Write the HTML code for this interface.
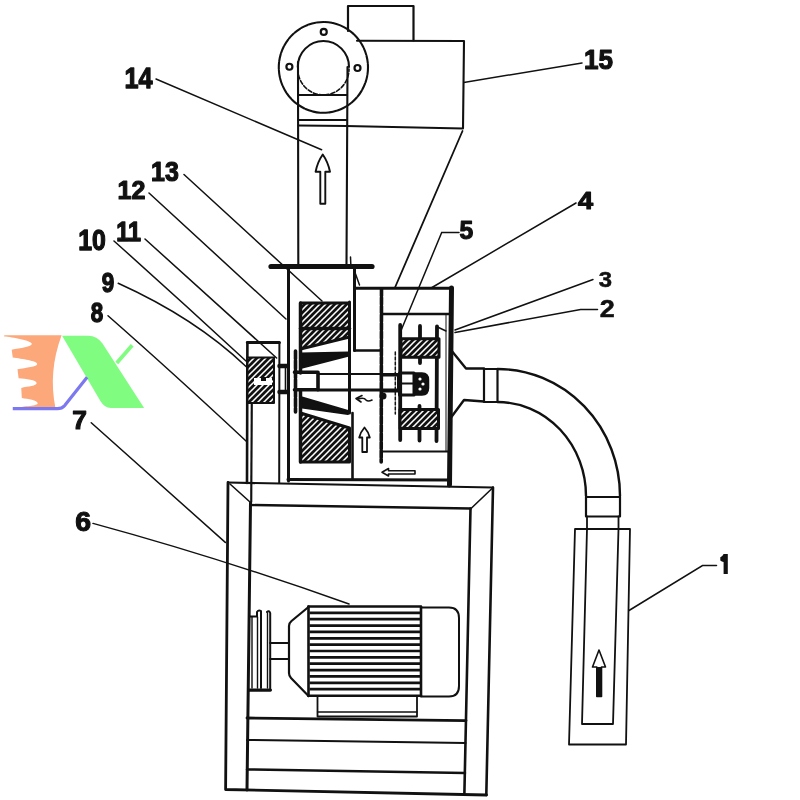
<!DOCTYPE html>
<html><head><meta charset="utf-8">
<style>
html,body{margin:0;padding:0;background:#fff;width:800px;height:800px;overflow:hidden}
svg{display:block}
text{font-family:"Liberation Sans",sans-serif;font-weight:bold;fill:#111}
</style></head>
<body>
<svg width="800" height="800" viewBox="0 0 800 800">
<defs>
<pattern id="hatch" patternUnits="userSpaceOnUse" width="6" height="6">
<rect width="6" height="6" fill="#111"/>
<path d="M-1,7 L7,-1 M-1,1 L1,-1 M5,7 L7,5" stroke="#fff" stroke-width="1.55"/>
</pattern>
</defs>
<rect width="800" height="800" fill="#fff"/>
<g id="logo">
<path d="M4.25,335.3 L61.6,335.3 Q48,372 55.5,408.3 L12.75,408.3 C25,406 38,406 37.7,403.3 C37.5,400 28,399 21.8,398 L21.25,387.9 C28,386.5 36.8,386 36.65,383.1 C36.5,380 26,379 18.6,378.3 L17.5,369.3 C26,367.5 37.5,367 37.2,364 C37,361 22,359 12.75,357.6 L11.7,349.7 C20,348 32,347 31.9,343.8 C31.8,340.5 12,337 4.25,336.4 Z" fill="#FCA87A"/>
<path d="M62.1,335.7 L88.25,335.7 Q97,335.7 102.5,343.5 L144.1,408.1 L110.8,408.1 Q104.5,408 100.1,400.5 Z" fill="#80FC80"/>
<path d="M116.75,363 L132.2,345.2" stroke="#80FC80" stroke-width="3.8"/>
<path d="M87.1,377.25 L64.5,405.75 Q62,408.7 57.4,408.7 L12.75,408.7" stroke="#7B78F0" stroke-width="3.2" fill="none"/>
</g>

<g fill="none" stroke="#111" stroke-width="1.8" stroke-linecap="round" stroke-linejoin="round">
<!-- top motor box -->
<path d="M348,31 L348,6 L413.5,6 L413.5,40.5" stroke-width="2.2"/>
<!-- cyclone box -->
<path d="M357,40.7 L464,41 L463,128" stroke-width="2.1"/>
<path d="M346,126 L463,128.5"/>
<path d="M462.5,131 L395,287.5" stroke-width="1.8"/>
<!-- ring -->
<ellipse cx="323.4" cy="67.4" rx="44.6" ry="45.4" stroke-width="2.1" stroke-dasharray="7 1.2"/>
<path d="M297.8,67 A25.6,26 0 1 1 349,67" stroke-width="2.1"/>
<path d="M297.8,69 A25.6,26 0 0 0 349,69" stroke-width="1.6" stroke-dasharray="4 2"/>
<circle cx="323.75" cy="31.9" r="3" stroke-width="2.2"/>
<circle cx="289.4" cy="66.75" r="3" stroke-width="2.2"/>
<circle cx="357.5" cy="68" r="3" stroke-width="2.2"/>
<!-- pipe -->
<path d="M298,62 L298.3,264" stroke-width="2.1"/>
<path d="M347.5,67 L346.5,264" stroke-width="2.1"/>
<path d="M350.5,257 L350.8,264" stroke-width="1.5"/>
<path d="M298.5,95 L347,95 M298.5,120 L347,120 M298.5,125.5 L347,126"/>
<!-- arrow in pipe -->
<path d="M322.75,154.5 Q317.5,162 315.6,171.75 L320.3,171.75 L320.3,203.8 L325.3,203.8 L325.3,171.75 L330,171.75 Q328,162 322.75,154.5 Z" stroke-width="1.9"/>

<!-- top plate -->
<path d="M271,266.5 L372,266.5" stroke-width="5.2"/>
<!-- chamber walls -->
<path d="M288.5,268 L288.5,481" stroke-width="3"/>
<path d="M354.5,268 L354.5,350.5" stroke-width="3"/>
<path d="M349.5,302 L349.5,413" stroke-width="3"/>
<path d="M352.5,413 L352.5,479" stroke-width="2.6"/>
<path d="M355,272.5 L359.5,285" stroke-width="1.5"/>
<!-- small box -->
<path d="M355,288.3 L450,288.3" stroke-width="3"/>
<path d="M354.5,350.5 L380.5,350.5" stroke-width="2.5"/>
<!-- housing -->
<path d="M451.5,288 L449.5,485" stroke-width="5"/>
<path d="M381.5,289 L381.2,462" stroke-width="3.6" stroke-dasharray="7 1.5"/>
<path d="M381.5,314 L450,314" stroke-width="2.4"/>
<path d="M381.5,451.5 L450,451.5" stroke-width="2.2"/>
<path d="M446,315 L446,451" stroke-width="1"/>
<!-- bottom lines of chamber -->
<path d="M288,479.5 L450,480" stroke-width="3"/>

<!-- upper hatched block -->
<path d="M300.5,303 L349.5,303 L349.5,337 L300.5,349 Z" fill="url(#hatch)" stroke-width="3"/>
<path d="M300.5,353.5 L348,352.4 L348,355.8 L300.5,368 Z" fill="#111" stroke-width="2"/>
<path d="M300.5,328.5 L349.5,328.5" stroke-width="3.5"/>
<path d="M300.5,436 L349.5,436" stroke-width="3"/>
<path d="M300.5,303 L300.5,373" stroke-width="3.5"/>
<path d="M295.5,351 L295.5,412" stroke-width="3.6" stroke-dasharray="8 1.5"/>
<!-- lower hatched block -->
<path d="M302,397.4 L348,411 L348,414 L302,407.5 Z" fill="#111" stroke-width="2"/>
<path d="M300.5,413 L349.5,428 L349.5,462 L300.5,462 Z" fill="url(#hatch)" stroke-width="3"/>
<path d="M300.5,390 L300.5,462" stroke-width="3.5"/>
<!-- shaft -->
<path d="M318,374 L399,374" stroke-width="2.2"/>
<path d="M318,390 L399,390" stroke-width="3"/>
<path d="M294.5,372.3 L318,372.3 L318,389.8 L294.5,389.8" stroke-width="3.6"/>
<rect x="381" y="375.5" width="17" height="16" stroke-width="2"/>
<circle cx="383" cy="396" r="3.5" fill="#111" stroke="none"/>

<!-- rotor -->
<path d="M400.2,325 L400.2,440" stroke-width="3.8"/>
<path d="M395.3,352 L395.3,414" stroke-width="1.5" stroke-dasharray="3 2"/>
<path d="M420,326 L420,363 M419.5,406 L419.5,440.5" stroke-width="3.8"/>
<path d="M437,326.3 L436.5,441" stroke-width="3.8"/>
<path d="M437.5,327 L446,331" stroke-width="1.5"/>
<rect x="401" y="338.7" width="38" height="18.5" fill="url(#hatch)" stroke-width="3"/>
<rect x="400" y="409.5" width="38.5" height="19" fill="url(#hatch)" stroke-width="3"/>
<rect x="399.5" y="373" width="14.5" height="22" stroke-width="3"/>
<path d="M400,383.5 L414,383.5" stroke-width="2"/>
<path d="M414,373 L422,373 Q428.5,373 428.5,380 L428.5,388 Q428.5,395 422,395 L414,395 Z" fill="#111" stroke-width="1.5"/>
<circle cx="420" cy="379" r="1.6" fill="#fff" stroke="none"/>
<circle cx="423" cy="384" r="1.6" fill="#fff" stroke="none"/>
<circle cx="420" cy="389" r="1.6" fill="#fff" stroke="none"/>

<!-- arrows in chamber -->
<path d="M364.5,427.5 Q360.5,432 359.2,437.5 L362.3,437.5 L362.3,452 L367,452 L367,437.5 L369.8,437.5 Q368.5,432 364.5,427.5 Z" stroke-width="1.8"/>
<path d="M382,472.3 L388.5,468.5 L388.5,470.8 L415,470.8 L415,474 L388.5,474 L388.5,476 Z" stroke-width="1.6"/>
<path d="M356,398.5 L362,395.5 M356,398.5 L361,402 M358,399 Q364,397 366,400 Q368,402 372,400" stroke-width="1.6"/>

<!-- pulley box left -->
<path d="M247.4,342.4 L279.4,342.4" stroke-width="3"/>
<path d="M247.4,342.4 L247,483" stroke-width="2.6"/>
<path d="M252,403 L251.5,502" stroke-width="1.6"/>
<path d="M279.4,342.4 L279.2,483" stroke-width="2"/>
<rect x="247.5" y="357.5" width="26.5" height="45.5" fill="url(#hatch)" stroke="#111" stroke-width="2"/>
<rect x="254" y="378" width="18" height="7" fill="#fff" stroke="none"/>
<rect x="261" y="377" width="5" height="4" fill="#111" stroke="none"/>
<path d="M279.5,366 L287,366 M279.5,392 L287,392" stroke-width="4.5"/>
<path d="M285.5,366 L285.5,392" stroke-width="1.6"/>

<!-- outlet flange -->
<path d="M451,350 L466,368.5 L484,368.5" stroke-width="2.4"/>
<path d="M484,401.5 L464,400 L451,417.5" stroke-width="2.4"/>
<rect x="484" y="369" width="13.5" height="33" stroke-width="2.2"/>
<!-- elbow -->
<path d="M497.5,369 A122.5,127 0 0 1 620,496" stroke-width="2.4"/>
<path d="M497.5,402 A88.5,94 0 0 1 586,496" stroke-width="2.4"/>
<rect x="586" y="497" width="34" height="19.5" stroke-width="2.2"/>
<path d="M587,516.5 L587,529 M618.5,516.5 L618.5,529"/>
<!-- feeder tube -->
<path d="M575,529 L630,529 L626,744.5 L569,744.5 Z" stroke-width="1.8"/>
<path d="M587,529 L582,724 L613,724 L618.5,529" stroke-width="1.8"/>
<path d="M599,650 L592.5,667 L596.8,667 L596.8,696.5 L601.5,696.5 L601.5,667 L605.5,667 Z" stroke-width="1.6"/>
<path d="M597,667 L601.3,667 L601,696.5 L597,696.5 Z" fill="#111" stroke="none"/>

<!-- base frame -->
<path d="M228,482.5 L493,487.5" stroke-width="2.2"/>
<path d="M228,482.5 L225.6,789.5 L486.5,795" stroke-width="2.8"/>
<path d="M493,487.5 L486.3,795" stroke-width="2.6"/>
<path d="M250.5,505 L470.5,508.5" stroke-width="2.4"/>
<path d="M250.5,503 L247,790" stroke-width="3"/>
<path d="M470.5,508.5 L464.4,793" stroke-width="2.6"/>
<path d="M230,484 L250,502 M492,488.5 L470.5,509" stroke-width="1.6"/>
<path d="M247,718 L466,720.6" stroke-width="2.8"/>
<path d="M247,740 L465.5,743" stroke-width="2"/>
<path d="M247,769.4 L465,773" stroke-width="2.5"/>
<!-- belt guard -->
<path d="M251.5,403 L251,505" stroke-width="1.6"/>

<!-- motor -->
<path d="M308.5,606.5 L421,606.5 M308.5,695.8 L421,695.8" stroke-width="2.6"/>
<path d="M308.5,606.5 L308.5,696 M421,607 L421,696" stroke-width="2.6"/>
<path d="M309.5,612.86 L421,612.86 M309.5,619.21 L421,619.21 M309.5,625.57 L421,625.57 M309.5,631.93 L421,631.93 M309.5,638.29 L421,638.29 M309.5,644.64 L421,644.64 M309.5,651.00 L421,651.00 M309.5,657.36 L421,657.36 M309.5,663.71 L421,663.71 M309.5,670.07 L421,670.07 M309.5,676.43 L421,676.43 M309.5,682.79 L421,682.79 M309.5,689.14 L421,689.14" stroke-width="2.7" stroke-linecap="butt"/>
<path d="M308.5,607 L291.5,621 Q289,623 289,626 L289,673 Q289,676 291,678 L308.5,696" stroke-width="2.2"/>
<path d="M421,607.5 L449,607.5 Q459,607.5 459,618 L459,686 Q459,696.5 449,696.5 L421,696.5" stroke-width="2"/>
<path d="M317.5,696 L317.5,716.5 L417,716.5 L417,696" stroke-width="1.8"/>
<path d="M317.5,712 L417,712" stroke-width="1.3"/>
<path d="M270,643 L289,643 M270,659 L289,659" stroke-width="1.8"/>
<path d="M249,616.5 L257,616.5 L257,612 Q258.5,609.5 261,611 L261,688 M267,612 Q269,610 270.2,613 L270.2,690.5 L249,690.5" stroke-width="2"/>
<path d="M249,690 L270.5,690" stroke-width="3"/>
<path d="M252,617 L252,688 M257.5,617 L257.5,688" stroke-width="1.4"/>
<path d="M267.5,613 L267.5,688" stroke-width="1.4"/>
</g>

<!-- leaders -->
<g fill="none" stroke="#111" stroke-width="1.5" stroke-linecap="round">
<path d="M156,79 L321.6,149.8"/>
<path d="M184,174.5 L322,301"/>
<path d="M149,193 L286,319"/>
<path d="M145,239 L276.6,358"/>
<path d="M114,241 Q180,300 246,361"/>
<path d="M118.2,283.3 Q195,318 246,366.5"/>
<path d="M108,315.8 Q172,372 246,441"/>
<path d="M91.25,422.75 L225.3,542.4"/>
<path d="M93,523.4 Q220,558 349,604"/>
<path d="M582,62.9 L463.75,82.5"/>
<path d="M576,203 L432,287.5"/>
<path d="M459,232.5 L441.7,232.5 L400,333"/>
<path d="M593,279.5 L455,330"/>
<path d="M597.5,309.4 L580.6,309.4 L455,332.5"/>
<path d="M716.5,565.6 L702.5,565.6 L629,610.5"/>
</g>

<!-- labels -->
<g opacity="0.999">
<text transform="translate(124.51,88.35) scale(0.840,1)" font-size="30.00" stroke="#111" stroke-width="1.31" stroke-linejoin="round">14</text>
<text transform="translate(151.03,181.07) scale(0.899,1)" font-size="27.75" stroke="#111" stroke-width="1.22" stroke-linejoin="round">13</text>
<text transform="translate(117.52,199.35) scale(0.964,1)" font-size="26.00" stroke="#111" stroke-width="1.14" stroke-linejoin="round">12</text>
<text transform="translate(116.33,240.85) scale(0.820,1)" font-size="28.55" stroke="#111" stroke-width="1.34" stroke-linejoin="round">11</text>
<text transform="translate(78.29,249.55) scale(0.839,1)" font-size="29.58" stroke="#111" stroke-width="1.31" stroke-linejoin="round">10</text>
<text transform="translate(101.66,291.57) scale(0.810,1)" font-size="27.75" stroke="#111" stroke-width="1.36" stroke-linejoin="round">9</text>
<text transform="translate(90.68,322.08) scale(0.829,1)" font-size="27.04" stroke="#111" stroke-width="1.33" stroke-linejoin="round">8</text>
<text transform="translate(72.31,429.45) scale(1.042,1)" font-size="25.29" stroke="#111" stroke-width="1.10" stroke-linejoin="round">7</text>
<text transform="translate(75.30,530.67) scale(1.033,1)" font-size="27.54" stroke="#111" stroke-width="1.10" stroke-linejoin="round">6</text>
<text transform="translate(584.05,68.97) scale(0.920,1)" font-size="28.36" stroke="#111" stroke-width="1.20" stroke-linejoin="round">15</text>
<text transform="translate(577.99,208.60) scale(1.114,1)" font-size="24.42" stroke="#111" stroke-width="1.10" stroke-linejoin="round">4</text>
<text transform="translate(459.51,238.69) scale(0.966,1)" font-size="25.57" stroke="#111" stroke-width="1.14" stroke-linejoin="round">5</text>
<text transform="translate(598.85,287.44) scale(1.114,1)" font-size="21.41" stroke="#111" stroke-width="0.50" stroke-linejoin="round">3</text>
<text transform="translate(599.66,316.90) scale(1.159,1)" font-size="23.29" stroke="#111" stroke-width="0.50" stroke-linejoin="round">2</text>
<path d="M723.6,554 L727.8,554 L727.8,574 L723.6,574 L723.6,562 Q721.8,561.5 720.3,560.5 L720.3,557.2 Q722.5,556.5 723.6,554 Z" fill="#111"/>
</g>
</svg>
</body></html>
